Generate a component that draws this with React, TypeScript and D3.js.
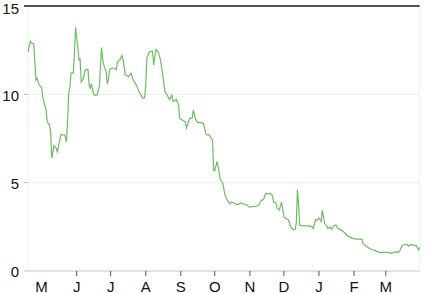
import React from "react";
import * as d3 from "d3";

const dates: string[] = [
  "2017-04-19","2017-04-21","2017-04-22","2017-04-24","2017-04-25","2017-04-26","2017-04-27","2017-04-29",
  "2017-05-01","2017-05-02","2017-05-05","2017-05-06","2017-05-08","2017-05-09","2017-05-10","2017-05-12",
  "2017-05-14","2017-05-15","2017-05-16","2017-05-18","2017-05-21","2017-05-22","2017-05-23","2017-05-24",
  "2017-05-25","2017-05-26","2017-05-27","2017-05-29","2017-05-30","2017-05-31",
  "2017-06-01","2017-06-02","2017-06-03","2017-06-04","2017-06-05","2017-06-07","2017-06-08","2017-06-09",
  "2017-06-11","2017-06-12","2017-06-13","2017-06-14","2017-06-16","2017-06-17","2017-06-19","2017-06-21",
  "2017-06-22","2017-06-23","2017-06-24","2017-06-25","2017-06-27","2017-06-28","2017-06-29","2017-06-30",
  "2017-07-03","2017-07-06","2017-07-07","2017-07-09","2017-07-11","2017-07-12","2017-07-14","2017-07-17",
  "2017-07-19","2017-07-21","2017-07-24","2017-07-26","2017-07-27","2017-07-29","2017-07-31",
  "2017-08-01","2017-08-02","2017-08-04","2017-08-07","2017-08-08","2017-08-10","2017-08-12","2017-08-14",
  "2017-08-16","2017-08-18","2017-08-20","2017-08-22","2017-08-24","2017-08-25","2017-08-28","2017-08-30","2017-08-31",
  "2017-09-03","2017-09-05","2017-09-06","2017-09-09","2017-09-11","2017-09-12","2017-09-14","2017-09-16",
  "2017-09-19","2017-09-21","2017-09-23","2017-09-24","2017-09-26","2017-09-28","2017-09-29","2017-09-30",
  "2017-10-01","2017-10-03","2017-10-04","2017-10-06","2017-10-08","2017-10-10","2017-10-12","2017-10-14",
  "2017-10-16","2017-10-18","2017-10-21","2017-10-24","2017-10-26","2017-10-29",
  "2017-11-01","2017-11-03","2017-11-06","2017-11-09","2017-11-11","2017-11-13","2017-11-15","2017-11-17",
  "2017-11-19","2017-11-21","2017-11-22","2017-11-24","2017-11-25","2017-11-27","2017-11-29",
  "2017-12-01","2017-12-02","2017-12-05","2017-12-07","2017-12-09","2017-12-11","2017-12-12","2017-12-13",
  "2017-12-14","2017-12-15","2017-12-18","2017-12-23","2017-12-26","2017-12-27","2017-12-29","2017-12-30",
  "2018-01-01","2018-01-03","2018-01-04","2018-01-05","2018-01-06","2018-01-08","2018-01-09","2018-01-11",
  "2018-01-12","2018-01-14","2018-01-16","2018-01-18","2018-01-21","2018-01-24","2018-01-26","2018-01-29","2018-01-31",
  "2018-02-03","2018-02-06","2018-02-08","2018-02-09","2018-02-12","2018-02-14","2018-02-17","2018-02-20",
  "2018-02-23","2018-02-26",
  "2018-03-01","2018-03-03","2018-03-06","2018-03-08","2018-03-10","2018-03-12","2018-03-14","2018-03-15",
  "2018-03-17","2018-03-20","2018-03-21","2018-03-23","2018-03-26","2018-03-28","2018-03-29","2018-03-30","2018-03-31",
];

const values: number[] = [
  12.4,13.0,12.9,12.85,11.9,10.8,10.9,10.5,
  10.4,9.85,9.1,8.45,8.25,7.8,6.4,7.1,
  6.95,6.7,7.1,7.7,7.7,7.6,7.3,8.55,
  10.05,10.4,11.2,11.2,12.3,13.8,
  13.2,12.7,11.95,12.0,10.7,10.9,11.3,11.4,
  11.4,10.5,10.35,10.6,10.0,9.95,9.95,10.4,
  11.55,12.65,11.95,11.65,11.3,10.6,10.8,11.4,
  11.5,11.4,11.85,11.95,12.2,11.95,11.1,11.0,
  11.2,10.8,10.5,10.15,10.05,9.8,9.8,
  10.5,12.05,12.4,12.45,11.65,12.55,12.4,11.95,
  11.1,10.15,9.95,9.7,9.95,9.6,9.7,9.4,8.65,
  8.5,8.45,8.1,8.65,8.65,9.1,8.6,8.4,
  8.4,8.35,7.8,7.7,7.7,7.5,7.4,5.7,
  5.7,6.2,5.9,5.15,5.0,4.3,4.05,3.8,
  3.9,3.85,3.75,3.85,3.8,3.75,
  3.6,3.65,3.65,3.75,4.0,4.05,4.4,4.35,
  4.4,4.25,3.9,3.85,3.55,3.45,3.9,
  3.1,3.0,2.9,2.5,2.35,2.35,2.7,4.6,
  3.75,2.6,2.55,2.55,2.5,2.4,2.9,2.85,
  3.0,2.8,3.45,3.1,2.7,2.55,2.4,2.5,
  2.35,2.55,2.6,2.4,2.3,2.15,2.0,1.9,1.85,
  1.8,1.8,1.8,1.55,1.4,1.3,1.2,1.15,
  1.05,1.05,
  1.05,1.05,1.0,1.05,1.1,1.05,1.2,1.4,
  1.5,1.5,1.4,1.5,1.45,1.45,1.3,1.2,1.35,
];

const yTicks: number[] = [0, 5, 10, 15];

const W = 433;
const H = 294;

export default function App() {
  const parse = d3.timeParse("%Y-%m-%d");
  const data = dates.map((d, i) => ({ date: parse(d) as Date, value: values[i] }));
  const extent = d3.extent(data, (d) => d.date) as [Date, Date];
  const x = d3.scaleTime().domain(extent).range([28, 419.7]);
  const y = d3.scaleLinear().domain([0, 15]).range([271, 6]);
  const line = d3
    .line<{ date: Date; value: number }>()
    .x((d) => x(d.date))
    .y((d) => y(d.value));
  const monthTicks = d3.timeMonth.range(d3.timeMonth.ceil(extent[0]), extent[1]);
  const fmt = d3.timeFormat("%b");
  const font = "'Liberation Sans', Arial, Helvetica, sans-serif";
  const x0 = 28;
  const x1 = 419.7;
  const fs = 15;

  return (
    <svg
      width={W}
      height={H}
      style={{ position: "absolute", left: 0, top: 0, background: "#fff" }}
    >
      {/* side borders */}
      <line x1={x0} x2={x0} y1={y(15)} y2={y(0)} stroke="#eeeeee" strokeWidth={1} />
      <line x1={x1} x2={x1} y1={y(15)} y2={y(0)} stroke="#eeeeee" strokeWidth={1} />
      {/* gridlines */}
      {yTicks
        .filter((t) => t !== 0 && t !== 15)
        .map((t) => (
          <line key={"g" + t} x1={x0} x2={x1} y1={y(t)} y2={y(t)} stroke="#ebebeb" strokeWidth={1} />
        ))}
      {/* top line */}
      <line x1={24} x2={x1} y1={y(15)} y2={y(15)} stroke="#1a1a1a" strokeWidth={1.4} />
      {/* zero line */}
      <line x1={24} x2={x1} y1={y(0)} y2={y(0)} stroke="#c4c4c4" strokeWidth={1} />
      {/* y ticks */}
      {yTicks.map((t) => (
        <g key={"y" + t}>
          {t !== 0 && t !== 15 && (
            <line x1={24} x2={28} y1={y(t)} y2={y(t)} stroke="#bbbbbb" strokeWidth={1} />
          )}
          <text
            x={19}
            y={Math.max(y(t) + fs * 0.42, 14)}
            textAnchor="end"
            fontFamily={font}
            fontSize={fs}
            fill="#111"
          >
            {t}
          </text>
        </g>
      ))}
      {/* x ticks */}
      {monthTicks.map((m, i) => (
        <g key={"x" + i}>
          {i > 0 && (
            <line x1={x(m)} x2={x(m)} y1={271} y2={276} stroke="#555" strokeWidth={1} />
          )}
          <text
            x={x(m)}
            y={292}
            textAnchor="middle"
            fontFamily={font}
            fontSize={fs}
            fill="#111"
          >
            {fmt(m)[0]}
          </text>
        </g>
      ))}
      {/* data line */}
      <path d={line(data) || ""} fill="none" stroke="#6cbd62" strokeWidth={1.2} />
    </svg>
  );
}
